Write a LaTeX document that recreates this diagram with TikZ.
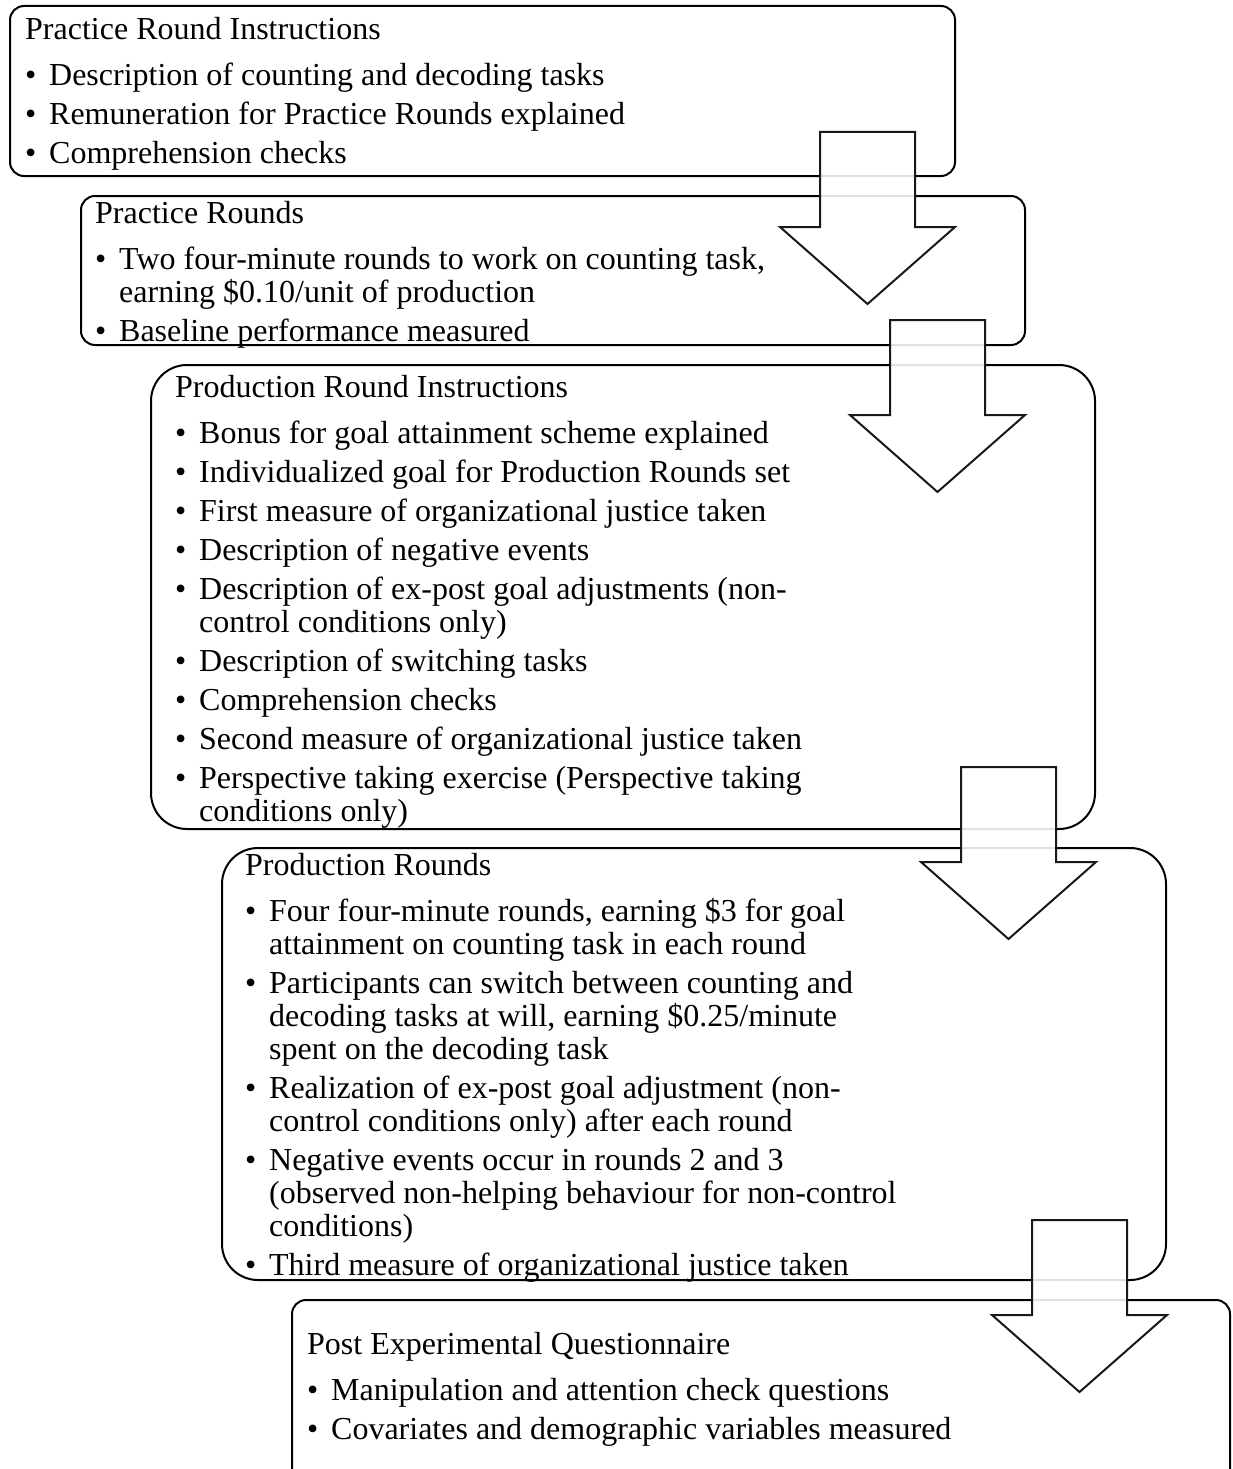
\documentclass[tikz,border=0pt]{standalone}
\usepackage{fontspec}
\setmainfont{Liberation Serif}
\usetikzlibrary{positioning}

\newcommand{\bul}{\makebox[24pt][l]{\textbullet}}
\newcommand{\cont}{\hspace*{24pt}}

\begin{document}
\begin{tikzpicture}[x=1pt, y=-1pt,
	stage/.style={draw=black, line width=2pt, fill=white},
	stagetext/.style={anchor=north west, inner sep=0pt, align=left,
		font=\fontsize{32}{33}\selectfont},
	blockarrow/.style={draw=black!90, line width=2pt, fill=white, fill opacity=0.88}]
	\clip (0,0) rectangle (1232,1469);
	% stage boxes
	\draw[stage, rounded corners=14] (10,6) rectangle (955,176);
	\draw[stage, rounded corners=14] (81,196) rectangle (1025,345);
	\draw[stage, rounded corners=36] (151,365) rectangle (1095,829);
	\draw[stage, rounded corners=36] (222,848) rectangle (1166,1280);
	\draw[stage, rounded corners=14] (292,1300) rectangle (1230,1500);
	% texts
	\node[stagetext] (pri) at (25,17) {Practice Round Instructions\\[13pt]
		\bul Description of counting and decoding tasks\\[6pt]
		\bul Remuneration for Practice Rounds explained\\[6pt]
		\bul Comprehension checks};
	\node[stagetext] (pr) at (95,201) {Practice Rounds\\[13pt]
		\bul Two four-minute rounds to work on counting task,\\
		\cont earning \$0.10/unit of production\\[6pt]
		\bul Baseline performance measured};
	\node[stagetext] (proi) at (175,375) {Production Round Instructions\\[13pt]
		\bul Bonus for goal attainment scheme explained\\[6pt]
		\bul Individualized goal for Production Rounds set\\[6pt]
		\bul First measure of organizational justice taken\\[6pt]
		\bul Description of negative events\\[6pt]
		\bul Description of ex-post goal adjustments (non-\\
		\cont control conditions only)\\[6pt]
		\bul Description of switching tasks\\[6pt]
		\bul Comprehension checks\\[6pt]
		\bul Second measure of organizational justice taken\\[6pt]
		\bul Perspective taking exercise (Perspective taking\\
		\cont conditions only)};
	\node[stagetext] (pro) at (245,853) {Production Rounds\\[13pt]
		\bul Four four-minute rounds, earning \$3 for goal\\
		\cont attainment on counting task in each round\\[6pt]
		\bul Participants can switch between counting and\\
		\cont decoding tasks at will, earning \$0.25/minute\\
		\cont spent on the decoding task\\[6pt]
		\bul Realization of ex-post goal adjustment (non-\\
		\cont control conditions only) after each round\\[6pt]
		\bul Negative events occur in rounds 2 and 3\\
		\cont (observed non-helping behaviour for non-control\\
		\cont conditions)\\[6pt]
		\bul Third measure of organizational justice taken};
	\node[stagetext] (peq) at (307,1332) {Post Experimental Questionnaire\\[13pt]
		\bul Manipulation and attention check questions\\[6pt]
		\bul Covariates and demographic variables measured};
	% block arrows between stages
	\foreach \cx/\ty in {867.5/132, 937.5/320, 1008.5/767, 1079.5/1220}
		\draw[blockarrow] (\cx-47.5,\ty) -- (\cx+47.5,\ty) -- (\cx+47.5,\ty+95)
			-- (\cx+87.5,\ty+95) -- (\cx,\ty+172) -- (\cx-87.5,\ty+95)
			-- (\cx-47.5,\ty+95) -- cycle;
\end{tikzpicture}
\end{document}
